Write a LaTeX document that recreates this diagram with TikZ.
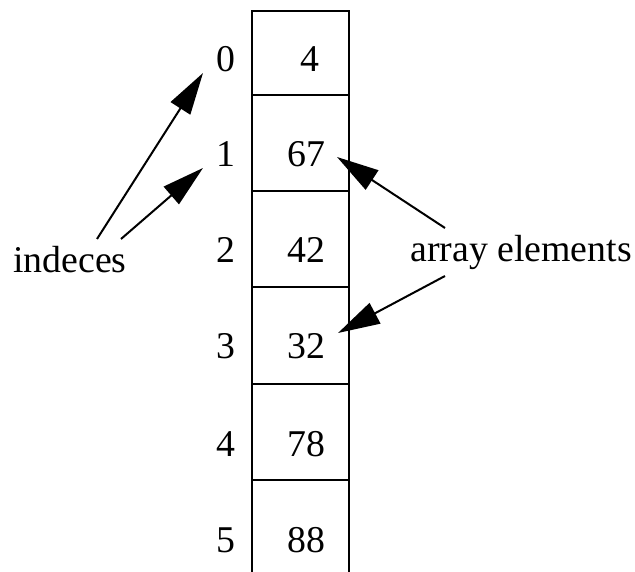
\documentclass[tikz,border=0pt]{standalone}
\usepackage{fontspec}
\setmainfont{Liberation Serif}
\usetikzlibrary{arrows.meta}
\begin{document}
\begin{tikzpicture}[x=1pt,y=-1pt,
  lbl/.style={font=\fontsize{37.8}{40}\selectfont, inner sep=0pt, anchor=base},
  ptr/.style={line width=2pt, -{Triangle[length=42pt,width=23pt]}},
  gridline/.style={line width=2pt}]
\useasboundingbox (0,0) rectangle (635,572);
% array column
\draw[gridline] (252,580) -- (252,11) -- (349,11) -- (349,580);
\foreach \y in {95,191,287,384,480} \draw[gridline] (252,\y) -- (349,\y);
% indices
\node[lbl] (i0) at (226,72) {0};
\node[lbl] (i1) at (226,167) {1};
\node[lbl] (i2) at (226,263) {2};
\node[lbl] (i3) at (226,359) {3};
\node[lbl] (i4) at (226,456) {4};
\node[lbl] (i5) at (226,552) {5};
% values
\node[lbl] (v0) at (310,72) {4};
\node[lbl] (v1) at (306,167) {67};
\node[lbl] (v2) at (306,263) {42};
\node[lbl] (v3) at (306,359) {32};
\node[lbl] (v4) at (306,456) {78};
\node[lbl] (v5) at (306,552) {88};
% labels
\node[lbl] (ind) at (70,273) {indeces};
\node[lbl] (arr) at (521,262) {array elements};
% arrow end points
\coordinate (ia) at (97,239);
\coordinate (ib) at (121,239);
\coordinate (t0) at (203,73);
\coordinate (t1) at (203,168);
\coordinate (ea) at (445,228);
\coordinate (eb) at (445,276);
\coordinate (t67) at (337,157);
\coordinate (t32) at (338,333);
\draw[ptr] (ia) -- (t0);
\draw[ptr] (ib) -- (t1);
\draw[ptr] (ea) -- (t67);
\draw[ptr] (eb) -- (t32);
\end{tikzpicture}
\end{document}
